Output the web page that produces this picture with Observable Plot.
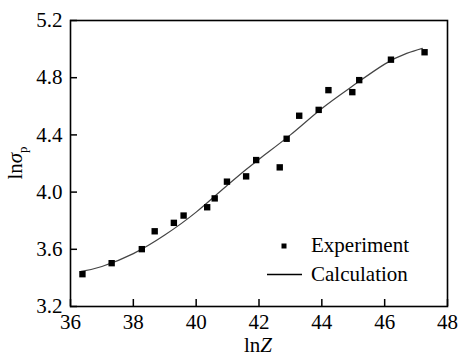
<!DOCTYPE html>
<html><head><meta charset="utf-8">
<script src="https://cdn.jsdelivr.net/npm/d3@7"></script>
<script src="https://cdn.jsdelivr.net/npm/@observablehq/plot@0.6"></script>
<style>
html,body{margin:0;padding:0;background:#fff;}
#chart{width:459px;height:356px;}
</style>
</head><body><div id="chart"></div>
<script>
// Experiment points
const expX = [36.38, 37.31, 38.27, 38.68, 39.29, 39.60, 40.35, 40.59, 40.98, 41.59, 41.91, 42.66, 42.88, 43.28, 43.90, 44.21, 44.97, 45.19, 46.20, 47.27];
const expY = [3.426, 3.503, 3.601, 3.726, 3.785, 3.836, 3.894, 3.956, 4.073, 4.110, 4.224, 4.173, 4.373, 4.534, 4.575, 4.713, 4.699, 4.783, 4.926, 4.978];
// Calculation curve
const calcX = [36.34, 37.0, 38.0, 39.0, 40.0, 41.0, 42.0, 43.0, 44.0, 45.0, 46.0, 46.7, 47.2];
const calcY = [3.445, 3.48, 3.57, 3.70, 3.86, 4.05, 4.23, 4.40, 4.585, 4.745, 4.895, 4.97, 5.005];
// Axis ticks
const xTicks = [36, 38, 40, 42, 44, 46, 48];
const yTicks = [3.2, 3.6, 4.0, 4.4, 4.8, 5.2];
const legendLabels = ["Experiment", "Calculation"];

const exp = expX.map((x, i) => ({x, y: expY[i]}));
const calc = calcX.map((x, i) => ({x, y: calcY[i]}));

const font = "'Liberation Serif', 'Times New Roman', serif";
const W = 459, H = 356, mL = 70, mR = 12, mT = 20, mB = 50, tick = 7;
const xDom = [36, 48], yDom = [3.2, 5.2];
const tickYLen = tick * (yDom[1] - yDom[0]) / (H - mT - mB);
const tickXLen = tick * (xDom[1] - xDom[0]) / (W - mL - mR);

const plot = Plot.plot({
  width: W,
  height: H,
  marginLeft: mL,
  marginRight: mR,
  marginTop: mT,
  marginBottom: mB,
  style: {fontFamily: font, fontSize: "21px", background: "#fff", color: "#000"},
  x: {domain: xDom},
  y: {domain: yDom},
  marks: [
    Plot.axisX({ticks: xTicks, tickSize: 0, tickPadding: 8, label: null, tickFormat: d => d.toString()}),
    Plot.axisY({ticks: yTicks, tickSize: 0, tickPadding: 8, label: null, tickFormat: d => d.toFixed(1)}),
    Plot.line(calc, {x: "x", y: "y", stroke: "#444", strokeWidth: 1.2, curve: "natural"}),
    Plot.dot(exp, {x: "x", y: "y", symbol: "square", r: 3.6, fill: "#000", stroke: "none"}),
    Plot.frame({stroke: "#000", strokeWidth: 1.6}),
    Plot.ruleX(xTicks, {x: d => d, y1: yDom[0], y2: yDom[0] + tickYLen, stroke: "#000", strokeWidth: 1.5}),
    Plot.ruleY(yTicks, {y: d => d, x1: xDom[0], x2: xDom[0] + tickXLen, stroke: "#000", strokeWidth: 1.5})
  ]
});
document.getElementById("chart").appendChild(plot);

const svg = d3.select(plot);
// x axis label
const xl = svg.append("text").attr("x", 258).attr("y", 352).attr("text-anchor", "middle")
  .attr("font-family", font).attr("font-size", 21).attr("fill", "#000");
xl.append("tspan").text("ln");
xl.append("tspan").attr("font-style", "italic").text("Z");
// y axis label
const yl = svg.append("text").attr("transform", "translate(22,163) rotate(-90)").attr("text-anchor", "middle")
  .attr("font-family", font).attr("font-size", 21).attr("fill", "#000");
yl.append("tspan").text("ln");
yl.append("tspan").attr("font-style", "italic").text("σ");
yl.append("tspan").attr("font-size", 13).attr("dy", 5).text("p");
// legend
const lg = svg.append("g").attr("font-family", font).attr("font-size", 21).attr("fill", "#000").attr("text-anchor", "start");
lg.append("rect").attr("x", 281.5).attr("y", 243.5).attr("width", 5).attr("height", 5).attr("fill", "#000");
lg.append("text").attr("x", 311).attr("y", 245).attr("dy", "0.35em").text(legendLabels[0]);
lg.append("line").attr("x1", 267).attr("x2", 302).attr("y1", 274.5).attr("y2", 274.5).attr("stroke", "#000").attr("stroke-width", 1.3);
lg.append("text").attr("x", 311).attr("y", 274).attr("dy", "0.35em").text(legendLabels[1]);
</script>
</body></html>
